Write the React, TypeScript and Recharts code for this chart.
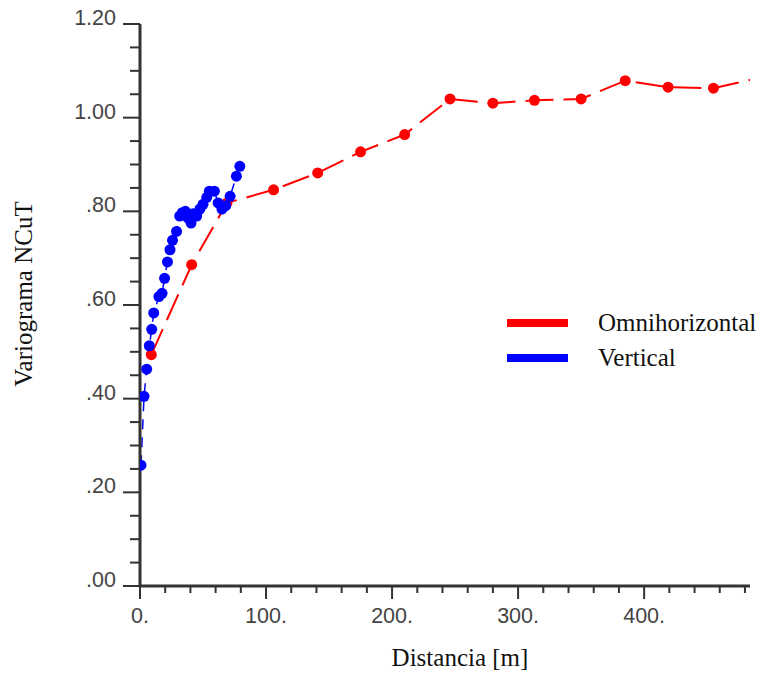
import React from 'react';
import { LineChart, Line, XAxis, YAxis, Legend, Label } from 'recharts';

// Omnihorizontal experimental variogram (lag in metres, semivariance)
const omniLag = [9, 41, 69, 106, 141, 175, 210, 246, 280, 313, 350, 385, 419, 455, 490];
const omniGamma = [0.494, 0.686, 0.818, 0.846, 0.882, 0.927, 0.964, 1.04, 1.031, 1.037, 1.04, 1.079, 1.065, 1.063, 1.084];

// Vertical experimental variogram
const vertLag = [
  0.8, 3.2, 5.3, 7.4, 9.3, 10.9, 15.0, 17.5, 19.5, 21.8, 23.8, 25.8, 29.0, 31.5, 33.5, 36.0,
  38.0, 40.5, 42.0, 45.0, 47.5, 50.0, 53.0, 55.0, 59.0, 62.0, 65.0, 68.0, 71.5, 76.5, 79.2,
];
const vertGamma = [
  0.258, 0.405, 0.463, 0.513, 0.548, 0.583, 0.618, 0.625, 0.657, 0.692, 0.718, 0.738, 0.757, 0.79, 0.797, 0.8,
  0.786, 0.775, 0.795, 0.79, 0.805, 0.815, 0.83, 0.843, 0.843, 0.818, 0.805, 0.812, 0.832, 0.875, 0.896,
];

const seriesNames = ['Omnihorizontal', 'Vertical'];
const seriesColors = ['#ff0000', '#0000ff'];

const X_MAX = 484;
const xTicks = Array.from({ length: 25 }, (_, i) => i * 20);
const yTicks = Array.from({ length: 25 }, (_, i) => Math.round(i * 5) / 100);

const omniData = omniLag.map((lag, i) => ({ lag, gamma: omniGamma[i] }));
const vertData = vertLag.map((lag, i) => ({ lag, gamma: vertGamma[i] }));

const AXIS = '#333333';
const TICK_TEXT = '#444444';
const SANS = '"Liberation Sans", Arial, sans-serif';
const SERIF = '"Liberation Serif", "Times New Roman", serif';

const fmtY = (v: number) => {
  const s = v.toFixed(2);
  return s.startsWith('0') ? s.slice(1) : s;
};

const YTick = (props: any) => {
  const { x, y, payload } = props;
  const v = payload.value as number;
  const major = Math.round(v * 100) % 20 === 0;
  const len = major ? 17 : 10;
  return (
    <g>
      <line x1={x - len} x2={x} y1={y} y2={y} stroke={AXIS} strokeWidth={2} />
      {major && (
        <text x={x - 24} y={y + 1} textAnchor="end" fontFamily={SANS} fontSize={21.5} fill={TICK_TEXT}>
          {fmtY(v)}
        </text>
      )}
    </g>
  );
};

const XTick = (props: any) => {
  const { x, y, payload } = props;
  const v = payload.value as number;
  const major = v % 100 === 0;
  const len = major ? 13 : 7;
  return (
    <g>
      <line x1={x} x2={x} y1={y} y2={y + len} stroke={AXIS} strokeWidth={2} />
      {major && (
        <text x={x} y={y + 37} textAnchor="middle" fontFamily={SANS} fontSize={21.5} fill={TICK_TEXT}>
          {`${v}.`}
        </text>
      )}
    </g>
  );
};

const makeDot = (color: string, r: number) => (props: any) => {
  const { cx, cy, payload, index } = props;
  if (payload.lag > X_MAX) return <g key={`d-${index}`} />;
  return <circle key={`d-${index}`} cx={cx} cy={cy} r={r} fill={color} stroke="none" />;
};

const LegendBox = () => (
  <svg width={256} height={70} style={{ overflow: 'visible' }}>
    {seriesNames.map((name, i) => (
      <g key={name}>
        <rect x={0} y={7 + i * 35} width={61} height={8} fill={seriesColors[i]} />
        <text x={91} y={19 + i * 35} fontFamily={SERIF} fontSize={25} fill="#111">
          {name}
        </text>
      </g>
    ))}
  </svg>
);

const XTitle = (props: any) => {
  const { viewBox } = props;
  return (
    <text
      x={viewBox.x + viewBox.width / 2 + 15}
      y={viewBox.y + 80}
      textAnchor="middle"
      fontFamily={SERIF}
      fontSize={25}
      fill="#111"
    >
      Distancia [m]
    </text>
  );
};

const YTitle = (props: any) => {
  const { viewBox } = props;
  const cx = viewBox.x - 44;
  const cy = viewBox.y + viewBox.height / 2 - 11;
  return (
    <text
      x={cx}
      y={cy}
      transform={`rotate(-90 ${cx} ${cy})`}
      textAnchor="middle"
      dominantBaseline="middle"
      fontFamily={SERIF}
      fontSize={25}
      fill="#111"
    >
      Variograma NCuT
    </text>
  );
};

export default function App() {
  return (
    <div style={{ marginTop: -8, marginLeft: -8, width: 767, height: 675 }}>
      <LineChart width={767} height={675} margin={{ top: 24, right: 17, left: 70, bottom: 39 }}>
        <XAxis
          type="number"
          dataKey="lag"
          domain={[0, X_MAX]}
          allowDataOverflow
          ticks={xTicks}
          interval={0}
          tickSize={0}
          tickMargin={0}
          tick={<XTick />}
          axisLine={{ stroke: AXIS, strokeWidth: 3 }}
          height={50}
        >
          <Label content={<XTitle />} />
        </XAxis>
        <YAxis
          type="number"
          dataKey="gamma"
          domain={[0, 1.2]}
          ticks={yTicks}
          interval={0}
          tickSize={0}
          tickMargin={0}
          tick={<YTick />}
          axisLine={{ stroke: AXIS, strokeWidth: 3 }}
          width={70}
        >
          <Label content={<YTitle />} />
        </YAxis>
        <Legend
          layout="horizontal"
          verticalAlign="middle"
          align="center"
          content={<LegendBox />}
          wrapperStyle={{ position: 'absolute', left: 507, top: 312, width: 256 }}
        />
        <Line
          data={omniData}
          dataKey="gamma"
          name={seriesNames[0]}
          stroke={seriesColors[0]}
          strokeWidth={2}
          strokeDasharray="28 10"
          dot={makeDot(seriesColors[0], 5.5)}
          activeDot={false}
          isAnimationActive={false}
        />
        <Line
          data={vertData}
          dataKey="gamma"
          name={seriesNames[1]}
          stroke={seriesColors[1]}
          strokeWidth={1.5}
          strokeDasharray="10 8"
          dot={makeDot(seriesColors[1], 5.5)}
          activeDot={false}
          isAnimationActive={false}
        />
      </LineChart>
    </div>
  );
}
